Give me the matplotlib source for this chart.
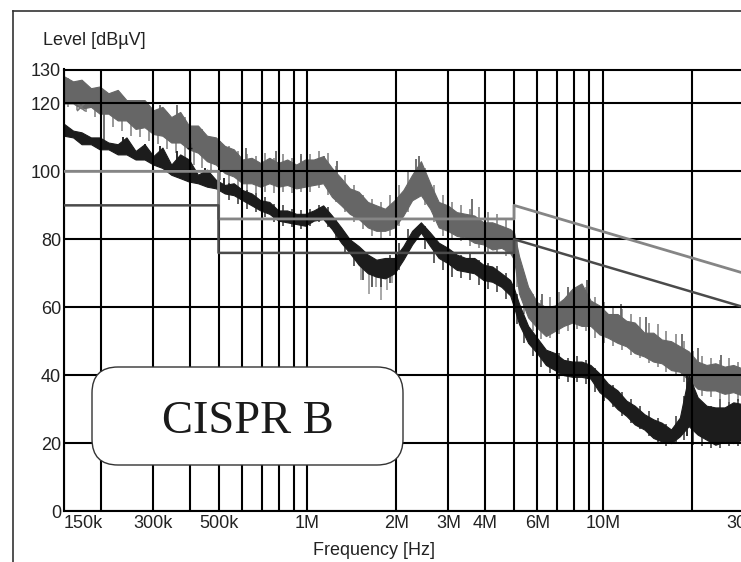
import matplotlib.pyplot as plt
import matplotlib.lines as mlines
from matplotlib.patches import FancyBboxPatch
from matplotlib.transforms import IdentityTransform

# frequency grid of the scan, in MHz
freq_mhz = [0.150, 0.161, 0.172, 0.185, 0.198, 0.212, 0.228, 0.244, 0.262, 0.281,
            0.301, 0.323, 0.346, 0.371, 0.397, 0.426, 0.457, 0.490, 0.525, 0.563,
            0.603, 0.647, 0.693, 0.743, 0.797, 0.854, 0.916, 0.982, 1.05, 1.13,
            1.21, 1.30, 1.39, 1.49, 1.60, 1.71, 1.83, 1.97, 2.11, 2.26,
            2.42, 2.60, 2.78, 2.98, 3.20, 3.43, 3.67, 3.94, 4.22, 4.53,
            4.85, 5.00, 5.20, 5.58, 5.98, 6.41, 6.87, 7.36, 7.89, 8.46,
            9.07, 9.73, 10.4, 11.2, 12.0, 12.8, 13.8, 14.8, 15.8, 17.0,
            18.2, 19.5, 20.9, 22.4, 24.0, 25.8, 27.6, 29.6, 30.0]

# grey trace (upper), envelope of the noise band in dBuV
gray_hi = [128, 126.5, 127, 124.5, 125, 123, 124, 121, 121, 121,
           118, 119, 116, 117.5, 113.5, 113.5, 110.5, 110, 107.5, 106.5,
           103.5, 104, 102.5, 104, 102.5, 103.5, 102, 103.5, 103.5, 104.5,
           101, 98, 95, 94, 91, 90, 89, 91.5, 94.5, 99,
           103, 96.5, 91, 90, 88, 87.5, 87, 85, 85, 84,
           83, 82, 75, 66, 61.5, 60, 60.5, 62.5, 65.5, 67,
           62, 60.5, 58, 58, 56, 55.5, 52.5, 52.5, 50.5, 50,
           48.5, 47, 44, 43, 43.5, 42.5, 43, 42, 41.5]
gray_lo = [120, 120, 118.5, 119, 117, 117, 115, 115, 112.5, 113,
           111, 110.5, 108.5, 108.5, 106.5, 105.5, 103, 102, 99.5, 98.5,
           96.5, 96.5, 95.5, 96.5, 95.5, 96, 95, 95.5, 96, 96.5,
           92.5, 90, 87.5, 86, 83.5, 82.5, 82.5, 83.5, 87, 91.5,
           93, 89, 83.5, 82.5, 81, 80.5, 79, 78.5, 77, 77.5,
           76, 74, 64, 57, 54, 51.5, 53, 54.5, 55.5, 54.5,
           54.5, 52, 51, 49.5, 48.5, 46.5, 45.5, 44, 43.5, 41.5,
           41, 38.5, 36, 35.5, 35.5, 34.5, 35, 34, 34.5]

# black trace (lower)
black_hi = [114, 112, 111.5, 110, 110, 108.5, 108, 110, 106, 108,
            104.5, 107, 102, 105, 103.5, 99, 100.5, 97.5, 96, 96.5,
            94.5, 93.5, 91.5, 91, 88.5, 88.5, 87.5, 87.5, 88.5, 90,
            87, 83.5, 80, 78, 75.5, 74, 74.5, 74.5, 78, 82.5,
            85, 82, 79, 77.5, 75.5, 74.5, 74.5, 72.5, 72, 70,
            68, 65.5, 61, 54.5, 51, 47.5, 46.5, 44.5, 44, 44,
            43, 40.5, 37.5, 35.5, 32.5, 31, 28.5, 27, 26, 24,
            27.5, 40, 33.5, 31, 30.5, 30.5, 32, 31.5, 31]
black_lo = [110.5, 110, 108, 108, 106.5, 106.5, 105, 105, 103.5, 103.5,
            102, 101, 99, 98, 97, 96.5, 95.5, 95, 93.5, 93,
            91.5, 90, 88.5, 87.5, 85.5, 85, 84.5, 84, 85.5, 86,
            83, 79, 76, 72.5, 70, 69, 68.5, 70, 74, 78.5,
            82, 78, 74.5, 73, 71, 70.5, 70, 68, 67.5, 66,
            63.5, 60, 55, 49.5, 46.5, 43, 41.5, 40, 39.5, 39.5,
            39, 35, 33, 30, 28, 25.5, 24, 21.5, 20.5, 20,
            22, 25, 22.5, 21, 19.5, 20.5, 20, 21, 21]

# noise fringe between the scan points: frequency (MHz), low, high
gray_fuzz_f = [0.155, 0.166, 0.178, 0.191, 0.220, 0.236, 0.253, 0.271, 0.291, 0.312,
               0.334, 0.358, 0.384, 0.412, 0.441, 0.473, 0.507, 0.544, 0.583, 0.625,
               0.670, 0.718, 0.770, 0.825, 0.885, 0.949, 1.02, 1.09, 1.17, 1.25,
               1.34, 1.44, 1.54, 1.65, 1.77, 1.90, 2.04, 2.18, 2.50, 2.69,
               2.88, 3.09, 3.31, 3.55, 3.80, 4.08, 4.37, 4.69, 5.10, 5.39,
               5.78, 6.19, 6.64, 7.11, 7.62, 8.17, 8.76, 9.40, 10.1, 10.8,
               11.6, 12.4, 13.3, 14.3, 15.3, 16.4, 17.6, 18.8, 20.2, 21.6,
               23.2, 24.9, 26.7, 28.6]
gray_fuzz_lo = [119, 118, 117.5, 116, 113, 112, 110.5, 110, 109, 108,
                106.5, 105.5, 104, 102, 101, 99.5, 97.5, 95.5, 94.5, 94,
                93.5, 94, 93.5, 94, 93.5, 94, 94, 95, 93, 91,
                88, 85, 83, 81, 80.5, 81, 84, 88, 90, 85,
                81, 80, 79.5, 78, 77.5, 76, 76, 75, 66, 58,
                53, 50.5, 51, 52, 53, 53.5, 53, 51, 49.5, 48.5,
                47.5, 46, 45, 43.5, 42.5, 41, 40, 38, 36, 34,
                33.5, 33, 32, 32.5]
gray_fuzz_hi = [127.5, 126, 125.5, 124, 122, 121.5, 120, 118.5, 119.5, 117,
                117.5, 115, 116, 113, 112.5, 110, 109, 107.5, 106, 105,
                104.5, 105.5, 104, 105, 104, 104.5, 105, 106, 105.5, 101.5,
                99, 96, 93, 92, 91, 93, 96, 100, 101, 96,
                93, 91, 90, 89, 89.5, 88, 87.5, 86, 80, 70,
                64, 62, 63, 64.5, 65, 64, 66, 63, 61.5, 60,
                59.5, 58, 57, 55.5, 55, 53, 52, 50, 47, 45.5,
                45, 44.5, 45, 44]

black_fuzz_f = [0.544, 0.583, 0.625, 0.670, 0.718, 0.770, 0.825, 0.885, 0.949, 1.02,
                1.09, 1.17, 1.25, 1.34, 1.44, 1.54, 1.65, 1.77, 1.90, 2.04,
                2.18, 2.50, 2.69, 2.88, 3.09, 3.31, 3.55, 3.80, 4.08, 4.37,
                4.69, 5.10, 5.39, 5.78, 6.19, 6.64, 7.11, 7.62, 8.17, 8.76,
                9.40, 10.1, 10.8, 11.6, 12.4, 13.3, 14.3, 15.3, 16.4, 17.6,
                18.8, 20.2, 21.6, 23.2, 24.9, 26.7, 28.6]
black_fuzz_lo = [91.5, 90.5, 89, 88, 86.5, 85, 84, 83.5, 83, 84,
                 85, 83.5, 80, 76, 72, 68, 66, 66, 67, 71,
                 76, 77, 73, 71, 69, 68.5, 68, 66.5, 65.5, 64.5,
                 62.5, 55, 49.5, 45.5, 42.5, 40.5, 39, 38, 38, 37.5,
                 35, 32.5, 30.5, 28, 26, 24, 22, 20, 19, 20,
                 21, 19.5, 19, 18.5, 18.5, 19, 19]
black_fuzz_hi = [96.5, 95.5, 94.5, 93.5, 92.5, 90.5, 90, 89, 88.5, 89,
                 90, 89.5, 86, 82, 79, 76, 74.5, 74, 75.5, 79,
                 83, 84, 80.5, 78, 76.5, 75.5, 76, 74, 73, 72,
                 70, 64, 57, 52, 49, 47, 46.5, 45, 45.5, 44.5,
                 42, 39, 37, 35, 33, 31, 29.5, 27.5, 25.5, 28,
                 34, 34, 32, 31, 33, 32, 33]

# narrow spikes riding on the traces: frequency (MHz), foot, tip
gray_spike_f = [0.205, 0.277, 0.317, 0.361, 0.43, 0.62, 0.78, 0.95, 1.14, 1.26,
                2.33, 2.39, 3.6, 6.2, 7.6, 8.84, 11.5, 14.0, 18.5, 21.0, 25.0]
gray_spike_lo = [108, 115, 113, 111, 106, 99, 98, 97, 98, 96,
                 94, 94, 84, 55, 57, 57, 52, 47, 43, 40, 37]
gray_spike_hi = [118, 121, 119.5, 119.5, 113, 107, 106, 105, 104.5, 103,
                 103.5, 104.5, 92, 64, 66, 68, 61, 57, 52, 48, 46]

black_spike_f = [0.237, 0.282, 0.317, 0.361, 0.40, 0.449, 0.52, 0.60, 0.70, 19.2]
black_spike_lo = [105, 104, 102, 99, 98, 96, 94, 92, 89, 22]
black_spike_hi = [110, 108, 107.5, 106, 104, 101, 98, 96, 93, 40]

# light downward spikes under the black trace around 1.5 - 2 MHz
light_spike_f = [1.52, 1.62, 1.70, 1.78, 1.86, 1.93]
light_spike_lo = [68, 64, 66, 62, 65, 67]
light_spike_hi = [74, 72, 71, 71, 72, 73]

# CISPR B limit lines
qp_f = [0.15, 0.5, 0.5, 5.0, 5.0, 30.0]
qp_level = [100, 100, 86, 86, 90, 70]
av_f = [0.15, 0.5, 0.5, 5.0, 5.0, 30.0]
av_level = [90, 90, 76, 76, 80, 60]

# axis ticks
y_ticks = [0, 20, 40, 60, 80, 100, 120, 130]
x_ticks = [150e3, 300e3, 500e3, 1e6, 2e6, 3e6, 4e6, 6e6, 10e6, 30e6]
x_tick_labels = ['150k', '300k', '500k', '1M', '2M', '3M', '4M', '6M', '10M', '30M']
x_minor = [200e3, 400e3, 600e3, 700e3, 800e3, 900e3, 5e6, 7e6, 8e6, 9e6, 20e6]

GRAY = '#666666'
BLACK = '#1c1c1c'
FONT = 'Liberation Sans'

W, H = 741, 562
fig = plt.figure(figsize=(W / 100, H / 100), dpi=100)
ax = fig.add_axes([64 / W, 1 - 511 / H, 680 / W, (511 - 69.5) / H])


def hz(values):
    return [v * 1e6 for v in values]


# grey trace with its lighter fringe
ax.vlines(hz(gray_fuzz_f), gray_fuzz_lo, gray_fuzz_hi, color='#7c7c7c', lw=1.1, zorder=0.9)
ax.fill_between(hz(freq_mhz), gray_lo, gray_hi, color=GRAY, lw=0.8, zorder=1)
ax.vlines(hz(gray_spike_f), gray_spike_lo, gray_spike_hi, color=GRAY, lw=1.3, zorder=1)
ax.vlines(hz(light_spike_f), light_spike_lo, light_spike_hi, color='#9a9a9a', lw=1.2, zorder=1.2)

# black trace
ax.vlines(hz(black_fuzz_f), black_fuzz_lo, black_fuzz_hi, color='#333333', lw=1.1, zorder=1.4)
ax.fill_between(hz(freq_mhz), black_lo, black_hi, color=BLACK, lw=0.8, zorder=1.5)
ax.vlines(hz(black_spike_f), black_spike_lo, black_spike_hi, color=BLACK, lw=1.3, zorder=1.5)

# measurement markers
ax.plot([0.171e6], [119], marker='x', color='#777777', ms=6, mew=1.2, zorder=2)
ax.vlines([0.40e6], 101, 108.5, color=BLACK, lw=1, zorder=2)
ax.hlines([102, 107], 0.392e6, 0.408e6, color=BLACK, lw=1, zorder=2)

# limit lines, drawn over the grid
ax.plot(hz(qp_f), qp_level, color='#858585', lw=2, zorder=3)
ax.plot(hz(av_f), av_level, color='#4a4a4a', lw=1.8, zorder=3)

ax.set_xscale('log')
ax.set_xlim(150e3, 30e6)
ax.set_ylim(0, 130)
ax.set_yticks(y_ticks)
ax.set_yticklabels([str(t) for t in y_ticks])
ax.set_xticks(x_ticks)
ax.set_xticklabels(x_tick_labels)
ax.set_xticks(x_minor, minor=True)
ax.xaxis.set_minor_formatter(plt.NullFormatter())
ax.get_xticklabels()[0].set_horizontalalignment('left')

ax.set_axisbelow(False)
ax.grid(axis='x', which='both', color='black', lw=1.5)
ax.grid(axis='y', which='major', color='black', lw=1.5)
ax.tick_params(which='both', length=0, labelsize=13, colors='#222222')
ax.tick_params(axis='y', pad=2)
ax.tick_params(axis='x', pad=3)
for label in ax.get_xticklabels() + ax.get_yticklabels():
    label.set_family(FONT)
for spine in ax.spines.values():
    spine.set_linewidth(1.5)
    spine.set_color('black')

fig.text(43 / W, 1 - 45 / H, 'Level [dBµV]', fontsize=13, family=FONT,
         color='#222222', va='baseline')
fig.text(374 / W, 1 - 555 / H, 'Frequency [Hz]', fontsize=13, family=FONT,
         color='#222222', ha='center', va='baseline')

# CISPR B label box
box = FancyBboxPatch((92, H - 465), 311, 98, boxstyle='round,pad=0,rounding_size=26',
                     transform=IdentityTransform(), facecolor='white',
                     edgecolor='#333333', lw=1, zorder=5)
fig.add_artist(box)
fig.text(247.5 / W, 1 - 432.7 / H, 'CISPR B', fontsize=33.5, family='Liberation Serif',
         color='#1a1a1a', ha='center', va='baseline', zorder=6)

# outer frame (left and top edges only, the rest is cropped)
fig.add_artist(mlines.Line2D([13 / W, 13 / W], [0, 1 - 11 / H], color='#333333', lw=1.2))
fig.add_artist(mlines.Line2D([13 / W, 1], [1 - 11 / H, 1 - 11 / H], color='#333333', lw=1.2))

fig.savefig('out.png', dpi=100)
